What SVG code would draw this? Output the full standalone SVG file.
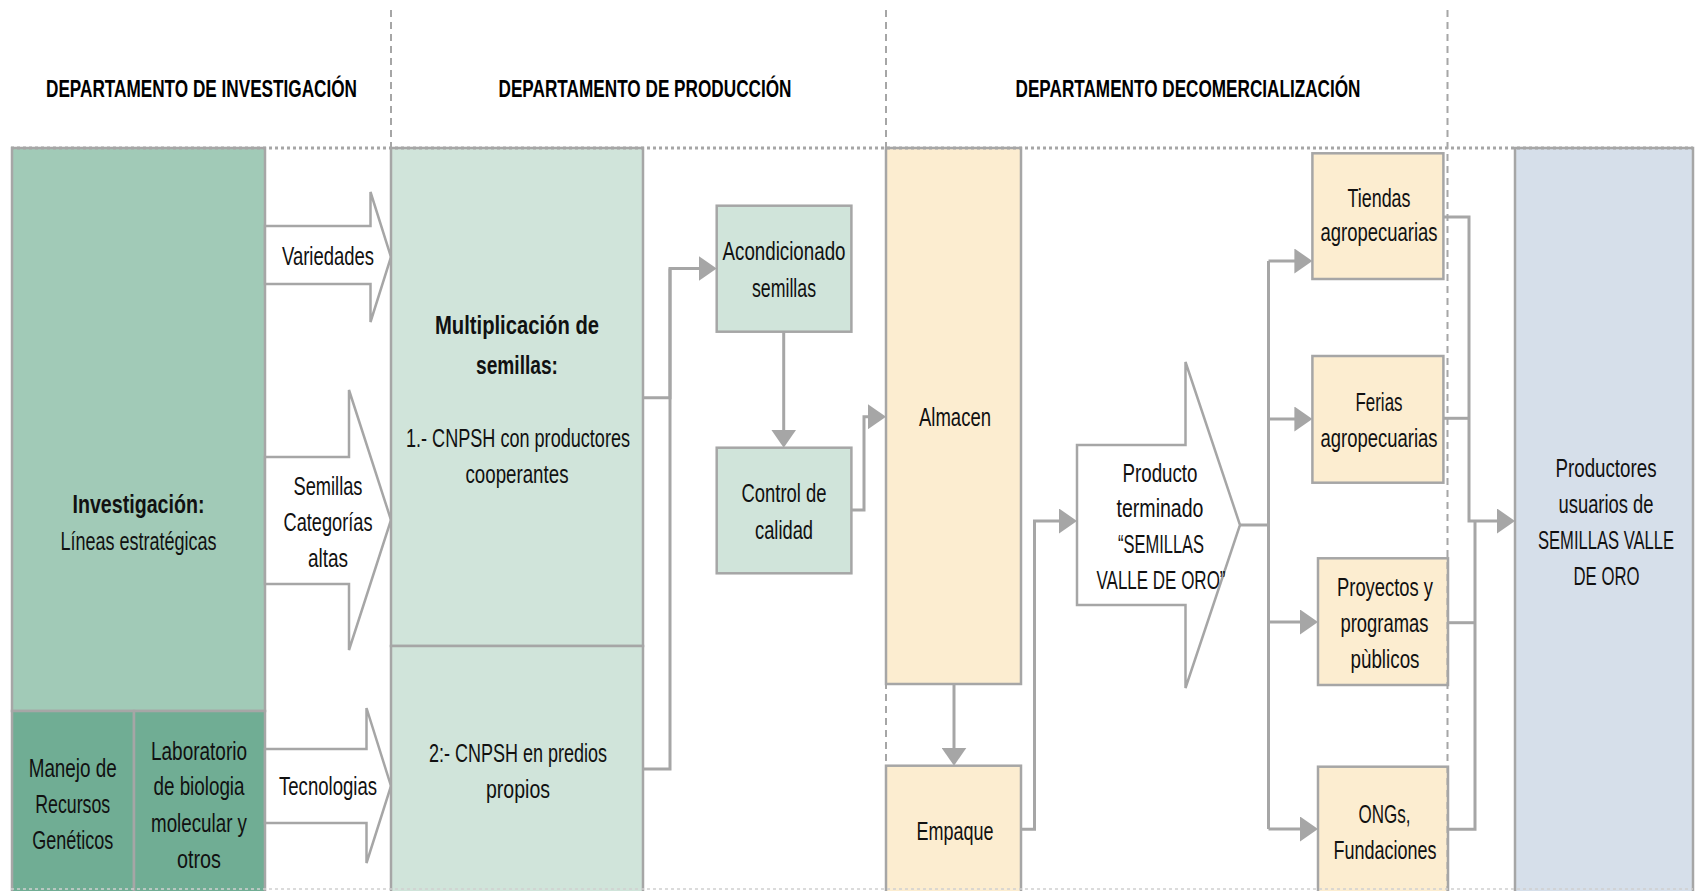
<svg xmlns="http://www.w3.org/2000/svg" width="1699" height="891" viewBox="0 0 1699 891">
<style>
.t{font-family:'Liberation Sans Narrow','Liberation Sans',Arial,sans-serif;font-size:25px;fill:#111;text-anchor:middle}
.b{font-weight:bold}
.h{font-family:'Liberation Sans Narrow','Liberation Sans',Arial,sans-serif;font-size:24px;font-weight:bold;fill:#000;text-anchor:middle}
.box{stroke:#a6a6a6;stroke-width:2.5}
.g1{fill:#a1cab7}
.g2{fill:#70ad94}
.g3{fill:#d0e4da}
.o{fill:#fcedd0}
.bl{fill:#d6dfea}
.ba{fill:#fff;stroke:#a6a6a6;stroke-width:2.5}
.c{fill:none;stroke:#a6a6a6;stroke-width:3;marker-end:url(#ah)}
.cn{fill:none;stroke:#a6a6a6;stroke-width:3}
.dv{stroke:#a6a6a6;stroke-width:2;stroke-dasharray:7 5;fill:none}
.dh{stroke:#a6a6a6;stroke-width:3;stroke-dasharray:3 3;fill:none}
</style>
<defs>
<marker id="ah" markerUnits="userSpaceOnUse" markerWidth="18" markerHeight="25" refX="8" refY="12.5" orient="auto" viewBox="0 0 18 25">
<path d="M0,0 L18,12.5 L0,25 z" fill="#a6a6a6"/>
</marker>
</defs>
<rect width="1699" height="891" fill="#fff"/>

<g id="headers">
<text class="h" x="201.5" y="97" textLength="311" lengthAdjust="spacingAndGlyphs">DEPARTAMENTO DE INVESTIGACIÓN</text>
<text class="h" x="645" y="97" textLength="293" lengthAdjust="spacingAndGlyphs">DEPARTAMENTO DE PRODUCCIÓN</text>
<text class="h" x="1188" y="97" textLength="345" lengthAdjust="spacingAndGlyphs">DEPARTAMENTO DECOMERCIALIZACIÓN</text>
</g>

<g id="investigacion">
<rect class="box g1" x="12" y="148" width="253" height="563"/>
<text class="t b" x="138.5" y="513" textLength="132" lengthAdjust="spacingAndGlyphs">Investigación:</text>
<text class="t" x="138.5" y="550" textLength="156" lengthAdjust="spacingAndGlyphs">Líneas estratégicas</text>
</g>
<g id="manejo">
<rect class="box g2" x="12" y="711" width="122" height="200"/>
<text class="t" x="72.7" y="777" textLength="88" lengthAdjust="spacingAndGlyphs">Manejo de</text>
<text class="t" x="72.7" y="813" textLength="75" lengthAdjust="spacingAndGlyphs">Recursos</text>
<text class="t" x="72.7" y="849" textLength="81" lengthAdjust="spacingAndGlyphs">Genéticos</text>
</g>
<g id="laboratorio">
<rect class="box g2" x="134" y="711" width="131" height="200"/>
<text class="t" x="199" y="760" textLength="96" lengthAdjust="spacingAndGlyphs">Laboratorio</text>
<text class="t" x="199" y="794.5" textLength="91" lengthAdjust="spacingAndGlyphs">de biologia</text>
<text class="t" x="199" y="831.5" textLength="96" lengthAdjust="spacingAndGlyphs">molecular y</text>
<text class="t" x="199" y="868" textLength="44" lengthAdjust="spacingAndGlyphs">otros</text>
</g>

<g id="arrow-variedades">
<polygon class="ba" points="265,226 370.5,226 370.5,192 391,257 370.5,322 370.5,284 265,284"/>
<text class="t" x="328" y="265" textLength="92" lengthAdjust="spacingAndGlyphs">Variedades</text>
</g>
<g id="arrow-semillas">
<polygon class="ba" points="265,457 349,457 349,390 391,520 349,650 349,584 265,584"/>
<text class="t" x="328" y="495" textLength="69" lengthAdjust="spacingAndGlyphs">Semillas</text>
<text class="t" x="328" y="531" textLength="89" lengthAdjust="spacingAndGlyphs">Categorías</text>
<text class="t" x="328" y="566.5" textLength="40" lengthAdjust="spacingAndGlyphs">altas</text>
</g>
<g id="arrow-tecnologias">
<polygon class="ba" points="265,749 366.5,749 366.5,708 391,786 366.5,863 366.5,823 265,823"/>
<text class="t" x="328" y="795" textLength="98" lengthAdjust="spacingAndGlyphs">Tecnologias</text>
</g>

<g id="multiplicacion">
<rect class="box g3" x="391" y="148" width="252" height="498"/>
<text class="t b" x="517" y="334" textLength="164" lengthAdjust="spacingAndGlyphs">Multiplicación de</text>
<text class="t b" x="517" y="374" textLength="82" lengthAdjust="spacingAndGlyphs">semillas:</text>
<text class="t" x="518" y="447" textLength="224" lengthAdjust="spacingAndGlyphs">1.- CNPSH con productores</text>
<text class="t" x="517" y="483" textLength="103" lengthAdjust="spacingAndGlyphs">cooperantes</text>
</g>
<g id="predios">
<rect class="box g3" x="391" y="646" width="252" height="260"/>
<text class="t" x="518" y="762" textLength="178" lengthAdjust="spacingAndGlyphs">2:- CNPSH en predios</text>
<text class="t" x="518" y="798" textLength="64" lengthAdjust="spacingAndGlyphs">propios</text>
</g>

<g id="acondicionado">
<rect class="box g3" x="716.7" y="205.7" width="134.7" height="126"/>
<text class="t" x="784" y="260" textLength="123" lengthAdjust="spacingAndGlyphs">Acondicionado</text>
<text class="t" x="784" y="297" textLength="64" lengthAdjust="spacingAndGlyphs">semillas</text>
</g>
<g id="control">
<rect class="box g3" x="716.7" y="447.7" width="134.7" height="125.6"/>
<text class="t" x="784" y="502" textLength="85" lengthAdjust="spacingAndGlyphs">Control de</text>
<text class="t" x="784" y="539.3" textLength="58" lengthAdjust="spacingAndGlyphs">calidad</text>
</g>

<g id="almacen">
<rect class="box o" x="886" y="148" width="135" height="536"/>
<text class="t" x="955" y="426" textLength="72" lengthAdjust="spacingAndGlyphs">Almacen</text>
</g>
<g id="empaque">
<rect class="box o" x="886" y="765.7" width="135" height="150"/>
<text class="t" x="955" y="840" textLength="77" lengthAdjust="spacingAndGlyphs">Empaque</text>
</g>

<g id="producto">
<polygon class="ba" points="1077,445 1185.5,445 1185.5,362 1240,525 1185.5,688 1185.5,605 1077,605"/>
<text class="t" x="1160" y="481.7" textLength="75" lengthAdjust="spacingAndGlyphs">Producto</text>
<text class="t" x="1160" y="517" textLength="87" lengthAdjust="spacingAndGlyphs">terminado</text>
<text class="t" x="1161" y="553" textLength="86" lengthAdjust="spacingAndGlyphs">“SEMILLAS</text>
<text class="t" x="1161" y="588.5" textLength="129" lengthAdjust="spacingAndGlyphs">VALLE DE ORO”</text>
</g>

<g id="tiendas">
<rect class="box o" x="1312.4" y="153.3" width="131" height="125.7"/>
<text class="t" x="1379" y="207" textLength="63" lengthAdjust="spacingAndGlyphs">Tiendas</text>
<text class="t" x="1379" y="241" textLength="117" lengthAdjust="spacingAndGlyphs">agropecuarias</text>
</g>
<g id="ferias">
<rect class="box o" x="1312.4" y="356" width="131" height="126.7"/>
<text class="t" x="1379" y="410.5" textLength="47" lengthAdjust="spacingAndGlyphs">Ferias</text>
<text class="t" x="1379" y="446.5" textLength="117" lengthAdjust="spacingAndGlyphs">agropecuarias</text>
</g>
<g id="proyectos">
<rect class="box o" x="1318" y="558.3" width="130" height="126.7"/>
<text class="t" x="1385" y="595.5" textLength="96" lengthAdjust="spacingAndGlyphs">Proyectos y</text>
<text class="t" x="1384.5" y="631.7" textLength="88" lengthAdjust="spacingAndGlyphs">programas</text>
<text class="t" x="1385" y="668" textLength="69" lengthAdjust="spacingAndGlyphs">pùblicos</text>
</g>
<g id="ongs">
<rect class="box o" x="1318" y="766.7" width="130" height="150"/>
<text class="t" x="1384.5" y="823" textLength="52" lengthAdjust="spacingAndGlyphs">ONGs,</text>
<text class="t" x="1385" y="859" textLength="103" lengthAdjust="spacingAndGlyphs">Fundaciones</text>
</g>

<g id="productores">
<rect class="box bl" x="1515" y="148" width="178" height="760"/>
<text class="t" x="1606" y="477" textLength="101" lengthAdjust="spacingAndGlyphs">Productores</text>
<text class="t" x="1606" y="513" textLength="95" lengthAdjust="spacingAndGlyphs">usuarios de</text>
<text class="t" x="1606" y="548.5" textLength="136" lengthAdjust="spacingAndGlyphs">SEMILLAS VALLE</text>
<text class="t" x="1606.5" y="585" textLength="66" lengthAdjust="spacingAndGlyphs">DE ORO</text>
</g>

<g id="guides">
<line class="dv" x1="391" y1="10" x2="391" y2="891"/>
<line class="dv" x1="886" y1="10" x2="886" y2="891"/>
<line class="dv" x1="1447.5" y1="10" x2="1447.5" y2="891"/>
<line class="dh" x1="11" y1="148" x2="1693" y2="148"/>
<line x1="11" y1="889" x2="1693" y2="889" stroke="#cfcfcf" stroke-width="1.5" stroke-dasharray="3 3"/>
</g>

<g id="connectors">
<path class="cn" d="M643,769 H670 V268.5"/>
<path class="c" d="M643,397.7 H670 V268.5 H706.7"/>
<path class="c" d="M783.7,331.7 V437.7"/>
<path class="c" d="M851.4,510 H864 V416.7 H876"/>
<path class="c" d="M954,684 V755.7"/>
<path class="c" d="M1021,829.3 H1034.5 V521 H1067"/>
<path class="cn" d="M1240,525 H1268.5"/>
<path class="cn" d="M1268.5,261 V829"/>
<path class="c" d="M1268.5,261 H1302.4"/>
<path class="c" d="M1268.5,419 H1302.4"/>
<path class="c" d="M1268.5,622 H1308"/>
<path class="c" d="M1268.5,829 H1308"/>
<path class="c" d="M1443.4,217 H1469 V521 H1505"/>
<path class="cn" d="M1443.4,418.3 H1469"/>
<path class="cn" d="M1448,622.7 H1475"/>
<path class="cn" d="M1475,521 V829.3 H1448"/>
</g>
</svg>
